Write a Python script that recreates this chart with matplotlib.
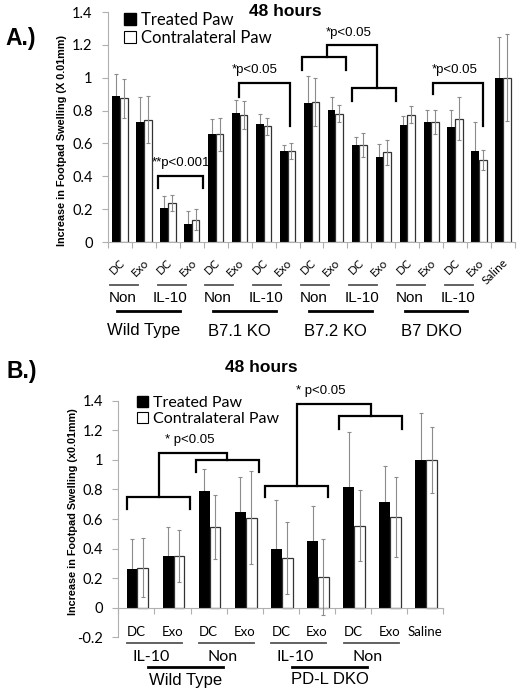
import numpy as np
import matplotlib.pyplot as plt
from matplotlib.patches import Patch
from matplotlib.transforms import blended_transform_factory

# ---- panel A data ----
cats_a = ["DC", "Exo"] * 8 + ["Saline"]
treat_a = [0.89, 0.73, 0.21, 0.11, 0.66, 0.785, 0.72, 0.555, 0.845, 0.805,
           0.59, 0.515, 0.715, 0.73, 0.70, 0.555, 1.0]
treat_err_a = [0.134, 0.154, 0.069, 0.08, 0.089, 0.079, 0.058, 0.034, 0.164,
               0.075, 0.048, 0.083, 0.049, 0.073, 0.105, 0.174, 0.25]
contra_a = [0.875, 0.745, 0.24, 0.135, 0.655, 0.775, 0.705, 0.555, 0.855,
            0.78, 0.59, 0.545, 0.775, 0.73, 0.75, 0.50, 1.0]
contra_err_a = [0.12, 0.142, 0.049, 0.063, 0.102, 0.085, 0.051, 0.05, 0.146,
                0.051, 0.075, 0.074, 0.051, 0.073, 0.131, 0.061, 0.266]
sub_a = ["Non", "IL-10"] * 4
groups_a = ["Wild Type", "B7.1 KO", "B7.2 KO", "B7 DKO"]

# ---- panel B data ----
cats_b = ["DC", "Exo"] * 4 + ["Saline"]
treat_b = [0.26, 0.35, 0.79, 0.65, 0.40, 0.45, 0.82, 0.715, 1.0]
treat_err_b = [0.205, 0.198, 0.148, 0.237, 0.331, 0.241, 0.367, 0.244, 0.319]
contra_b = [0.27, 0.35, 0.547, 0.61, 0.337, 0.206, 0.556, 0.615, 1.0]
contra_err_b = [0.199, 0.173, 0.216, 0.315, 0.246, 0.257, 0.242, 0.27, 0.224]
sub_b = ["IL-10", "Non"] * 2
groups_b = ["Wild Type", "PD-L DKO"]

W, H = 520, 692
CAL = "Lato"
ARI = "Liberation Sans"
GRAY = "#8c8c8c"


def fy(py):
    return 1 - py / H


def bars(ax, treat, terr, contra, cerr, width, off_b, off_w):
    x = np.arange(len(treat))
    ax.errorbar(x + off_b, treat, yerr=terr, fmt="none", ecolor=GRAY,
                elinewidth=0.8, capsize=1.5, capthick=0.8, zorder=1)
    ax.bar(x + off_b, treat, width, color="black", zorder=2)
    ax.bar(x + off_w, contra, width, color="white", edgecolor="#333333",
           linewidth=0.9, zorder=2)
    ax.errorbar(x + off_w, contra, yerr=cerr, fmt="none", ecolor=GRAY,
                elinewidth=0.8, capsize=1.5, capthick=0.8, zorder=3)


def style(ax, n, ymin, ymax):
    ax.set_xlim(-0.5, n - 0.5)
    ax.set_ylim(ymin, ymax)
    ticks = np.arange(ymin, ymax + 0.01, 0.2)
    ax.set_yticks(ticks)
    ax.set_yticklabels(["{:g}".format(round(v, 1)) for v in ticks],
                       fontfamily=CAL, fontsize=10.5)
    ax.set_xticks(np.arange(-0.5, n, 1))
    ax.set_xticklabels([])
    for s in ["top", "right"]:
        ax.spines[s].set_visible(False)
    ax.spines["left"].set_color("#b0b0b0")
    ax.spines["bottom"].set_color("#b0b0b0")
    ax.spines["bottom"].set_position(("data", 0))
    ax.tick_params(axis="both", direction="out", length=4, color="#b0b0b0",
                   width=0.8, pad=7)


def bracket(ax, x0, x1, y, leg0, leg1):
    ax.plot([x0, x0, x1, x1], [leg0, y, y, leg1], color="black", lw=1.6,
            clip_on=False, zorder=4, solid_joinstyle="miter")


def legend(ax, x, y, size):
    handles = [Patch(facecolor="black", edgecolor="black", label="Treated Paw"),
               Patch(facecolor="white", edgecolor="black", linewidth=0.8,
                     label="Contralateral Paw")]
    ax.legend(handles=handles, loc="upper left", bbox_to_anchor=(x, y),
              frameon=False, prop={"family": CAL, "size": size},
              handlelength=0.7, handleheight=0.7, handletextpad=0.3,
              labelspacing=0.12, borderpad=0, borderaxespad=0)


fig = plt.figure(figsize=(W / 100, H / 100), dpi=100)

# ================= Panel A =================
axA = fig.add_axes([108 / W, fy(242), (515 - 108) / W, 230 / H])
bars(axA, treat_a, treat_err_a, contra_a, contra_err_a, 0.32, -0.16, 0.16)
style(axA, len(cats_a), 0, 1.4)
legend(axA, 0.039, 1.0, 12)

trA = blended_transform_factory(axA.transData, axA.transAxes)
for i, c in enumerate(cats_a):
    axA.text(i + 0.12, -0.08, c, transform=trA, ha="right", va="center",
             rotation=45, rotation_mode="anchor", fontfamily=CAL, fontsize=8.5)

tfA = blended_transform_factory(axA.transData, fig.transFigure)
for k, s in enumerate(sub_a):
    axA.plot([2 * k - 0.43, 2 * k + 0.74], [fy(285)] * 2, color="#555555",
             lw=1.3, transform=tfA, clip_on=False)
    axA.text(2 * k + 0.1, fy(298), s, transform=tfA, ha="center", va="center",
             fontfamily=ARI, fontsize=11)
for g, name in enumerate(groups_a):
    c = 4 * g + 1.2
    axA.plot([c - 1.31, c + 1.31], [fy(311)] * 2, color="black", lw=2,
             transform=tfA, clip_on=False)
    axA.text(4 * g + 1.0, fy(331), name, transform=tfA, ha="center",
             va="center", fontfamily=ARI, fontsize=12)

bracket(axA, 1.59, 3.47, 0.40, 0.33, 0.33)
axA.text(2.55, 0.48, "**p<0.001", ha="center", va="center", fontfamily=ARI, fontsize=9.5)
bracket(axA, 4.97, 7.10, 0.97, 0.884, 0.706)
axA.text(5.64, 1.05, "*p<0.05", ha="center", va="center", fontfamily=ARI, fontsize=9.5)
bracket(axA, 7.60, 9.44, 1.128, 1.05, 1.05)
bracket(axA, 9.69, 11.53, 0.935, 0.86, 0.86)
bracket(axA, 8.65, 10.74, 1.20, 1.128, 0.935)
axA.text(9.57, 1.274, "*p<0.05", ha="center", va="center", fontfamily=ARI, fontsize=9.5)
bracket(axA, 13.08, 15.17, 0.97, 0.90, 0.706)
axA.text(13.99, 1.05, "*p<0.05", ha="center", va="center", fontfamily=ARI, fontsize=9.5)

fig.text(285 / W, fy(12), "48 hours", ha="center", va="center",
         fontfamily=ARI, fontweight="bold", fontsize=12.5)
fig.text(21 / W, fy(39), "A.)", ha="center", va="center",
         fontfamily=ARI, fontweight="bold", fontsize=16.5)
fig.text(62 / W, fy(140), "Increase in Footpad Swelling (X 0.01mm)",
         rotation=90, ha="center", va="center", fontfamily=ARI,
         fontweight="bold", fontsize=7.8)

# ================= Panel B =================
axB = fig.add_axes([118.3 / W, fy(637.3), 325 / W, 236.5 / H])
bars(axB, treat_b, treat_err_b, contra_b, contra_err_b, 0.30, -0.12, 0.18)
style(axB, len(cats_b), -0.2, 1.4)
legend(axB, 0.058, 1.02, 11.5)

trB = blended_transform_factory(axB.transData, axB.transAxes)
for i, c in enumerate(cats_b):
    axB.text(i, 0.024, c, transform=trB, ha="center", va="center",
             fontfamily=CAL, fontsize=9.5)

tfB = blended_transform_factory(axB.transData, fig.transFigure)
for k, s in enumerate(sub_b):
    axB.plot([2 * k - 0.26, 2 * k + 1.26], [fy(643.3)] * 2, color="#555555",
             lw=1.3, transform=tfB, clip_on=False)
    axB.text(2 * k + 0.4, fy(656.7), s, transform=tfB, ha="center",
             va="center", fontfamily=CAL, fontsize=11.5)
for g, name in enumerate(groups_b):
    c = 4 * g + 1.35
    axB.plot([c - 1.04, c + 1.04], [fy(666.7)] * 2, color="black", lw=2,
             transform=tfB, clip_on=False)
    axB.text(c, fy(680), name, transform=tfB, ha="center", va="center",
             fontfamily=ARI, fontsize=12)

bracket(axB, -0.26, 1.49, 0.749, 0.668, 0.668)
bracket(axB, 1.65, 3.40, 1.00, 0.92, 0.92)
bracket(axB, 0.63, 2.51, 1.044, 0.749, 1.00)
axB.text(1.47, 1.133, "* p<0.05", ha="center", va="center", fontfamily=ARI, fontsize=9.5)
bracket(axB, 3.56, 5.31, 0.825, 0.746, 0.746)
bracket(axB, 5.61, 7.37, 1.294, 1.211, 1.211)
bracket(axB, 4.45, 6.50, 1.379, 0.825, 1.294)
axB.text(5.1, 1.468, "* p<0.05", ha="center", va="center", fontfamily=ARI,
         fontsize=9.5, clip_on=False)

fig.text(261 / W, fy(368), "48 hours", ha="center", va="center",
         fontfamily=ARI, fontweight="bold", fontsize=12.5)
fig.text(22 / W, fy(371), "B.)", ha="center", va="center",
         fontfamily=ARI, fontweight="bold", fontsize=16.5)
fig.text(73 / W, fy(512), "Increase in Footpad Swelling (x0.01mm)",
         rotation=90, ha="center", va="center", fontfamily=ARI,
         fontweight="bold", fontsize=7.8)

fig.savefig("out.png", dpi=100)
